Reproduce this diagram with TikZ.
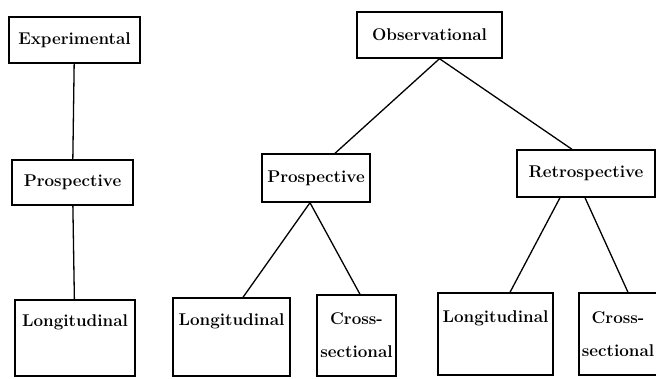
\documentclass[tikz,border=0pt]{standalone}
\usepackage{tikz}
\usetikzlibrary{calc,positioning}

\begin{document}
\begin{tikzpicture}[x=1pt, y=-1pt,
    box/.style={draw, line width=1.4pt, inner sep=0pt, minimum height=46,
      font=\fontsize{17}{20}\selectfont\bfseries},
    leaf/.style={box, text depth=34pt},
    split/.style={box, align=center},
    conn/.style={line width=1.3pt}]
    \clip (0,0) rectangle (656,378);
    \node [box, minimum width=131]                      (exper)  at (74.5,40)    {Experimental};
    \node [box, minimum width=121, minimum height=45]   (prosL)  at (72.5,182.5) {Prospective};
    \node [leaf, minimum width=120, minimum height=76]  (longL)  at (75,338)     {Longitudinal};
    \node [box, minimum width=145]                      (obs)    at (429.5,35)   {Observational};
    \node [box, minimum width=108, minimum height=48]   (prosM)  at (316,178)    {Prospective};
    \node [box, minimum width=138, minimum height=47]   (retro)  at (586,173.5)  {Retrospective};
    \node [leaf, minimum width=117, minimum height=78]  (longM)  at (231.5,337)  {Longitudinal};
    \node [split, minimum width=79, minimum height=81]  (crossM) at (356.5,335.5) {Cross-\\[13pt]sectional};
    \node [leaf, minimum width=115, minimum height=82]  (longR)  at (495.5,334)  {Longitudinal};
    \node [split, minimum width=78, minimum height=82]  (crossR) at (618,334)    {Cross-\\[13pt]sectional};
    \path [conn] (exper) edge (prosL)
                 (prosL) edge (longL)
                 ($(obs.south)+(10,0)$)    edge ($(prosM.north)+(19,0)$)
                 ($(obs.south)+(10,0)$)    edge ($(retro.north)+(-14,0)$)
                 ($(prosM.south)+(-6,0)$)  edge ($(longM.north)+(11.5,0)$)
                 ($(prosM.south)+(-6,0)$)  edge ($(crossM.north)+(3.5,0)$)
                 ($(retro.south)+(-26,0)$) edge ($(longR.north)+(14.5,0)$)
                 ($(retro.south)+(-1,0)$)  edge ($(crossR.north)+(10,0)$);
\end{tikzpicture}
\end{document}
